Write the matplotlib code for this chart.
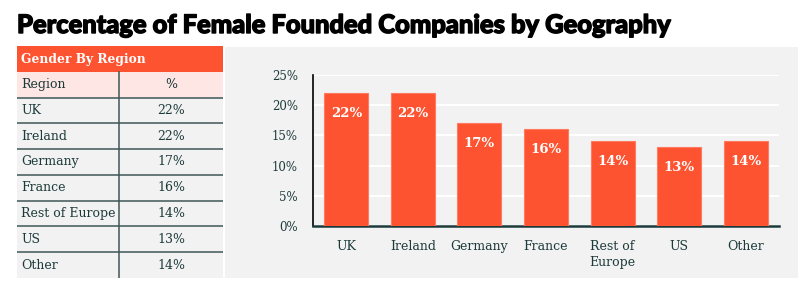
import matplotlib.pyplot as plt
import matplotlib.patches as mpatches
import matplotlib.patheffects as pe

# Dados
regions = ['UK', 'Ireland', 'Germany', 'France', 'Rest of Europe', 'US', 'Other']
bar_labels = ['UK', 'Ireland', 'Germany', 'France', 'Rest of\nEurope', 'US', 'Other']
pct = [22, 22, 17, 16, 14, 13, 14]
yticks = [0, 5, 10, 15, 20, 25]

title = 'Percentage of Female Founded Companies by Geography'
table_title = 'Gender By Region'
col_headers = ['Region', '%']

RED = '#fd5331'
PINK = '#fde6e4'
GRAY = '#f2f2f2'
DARK = '#1d3a3a'
SERIF = 'DejaVu Serif'

W, H = 800, 283
fig = plt.figure(figsize=(W / 100, H / 100), dpi=100)
fig.patch.set_facecolor('white')


def px_axes(x0, y0, x1, y1):
    # caixa em pixels (origem no topo) -> eixos da figura
    return fig.add_axes([x0 / W, 1 - y1 / H, (x1 - x0) / W, (y1 - y0) / H])


fig.text(17 / W, 1 - 33 / H, title, fontsize=18.35, fontweight='black',
         family='Lato', color='black', ha='left', va='baseline',
         path_effects=[pe.withStroke(linewidth=1.0, foreground='black')])

# Tabela
tab = px_axes(17, 46, 223, 278)
tab.set_xlim(0, 1)
tab.set_ylim(9, 0)
tab.axis('off')
split = (119 - 17) / (223 - 17)
tab.add_patch(mpatches.Rectangle((0, 0), 1, 1, color=RED, lw=0))
tab.add_patch(mpatches.Rectangle((0, 1), 1, 1, color=PINK, lw=0))
tab.add_patch(mpatches.Rectangle((0, 2), 1, 7, color=GRAY, lw=0))
tab.text(0.02, 0.52, table_title, color='white', fontsize=8.8, fontweight='bold',
         family=SERIF, va='center', ha='left')
tab.text(0.02, 1.5, col_headers[0], color=DARK, fontsize=9, family=SERIF,
         va='center', ha='left')
tab.text((split + 1) / 2, 1.5, col_headers[1], color=DARK, fontsize=9,
         family=SERIF, va='center', ha='center')
for i, (r, v) in enumerate(zip(regions, pct)):
    y = i + 2.5
    tab.text(0.02, y, r, color=DARK, fontsize=9, family=SERIF, va='center', ha='left')
    tab.text((split + 1) / 2, y, f'{v}%', color=DARK, fontsize=9, family=SERIF,
             va='center', ha='center')
for i in range(2, 9):
    tab.plot([0, 1], [i, i], color='#3e5656', lw=1.1)
tab.plot([split, split], [1, 9], color='#3e5656', lw=1.1)

# Painel do grafico
bg = px_axes(225, 47, 798, 278)
bg.set_facecolor(GRAY)
bg.set_xticks([])
bg.set_yticks([])
for s in bg.spines.values():
    s.set_visible(False)

ax = px_axes(313, 75, 779, 226)
ax.set_facecolor(GRAY)
x = range(len(pct))
bars = ax.bar(x, pct, width=0.66, color=RED, edgecolor='#ff7a5e', lw=0.8, zorder=3)
ax.set_xlim(-0.5, len(pct) - 0.5)
ax.set_ylim(0, 25)
ax.set_yticks(yticks)
ax.set_yticklabels([f'{t}%' for t in yticks], family=SERIF, fontsize=8.5, color=DARK)
ax.set_xticks(list(x))
ax.set_xticklabels(bar_labels, family=SERIF, fontsize=9, color=DARK, linespacing=1.3,
                   va='top')
ax.tick_params(length=0, pad=10)
ax.tick_params(axis='y', pad=11)
ax.grid(axis='y', color='white', lw=1.5, zorder=0)
ax.set_axisbelow(True)
for s in ['top', 'right']:
    ax.spines[s].set_visible(False)
ax.spines['left'].set_color('black')
ax.spines['left'].set_linewidth(1.2)
ax.spines['bottom'].set_color('#1d3a3a')
ax.spines['bottom'].set_linewidth(1.8)
for b, v in zip(bars, pct):
    ax.text(b.get_x() + b.get_width() / 2, v - 3.3, f'{v}%', color='white',
            fontsize=9.5, fontweight='bold', family=SERIF, ha='center', va='center',
            zorder=4)

plt.savefig('out.png', dpi=100, facecolor='white')
